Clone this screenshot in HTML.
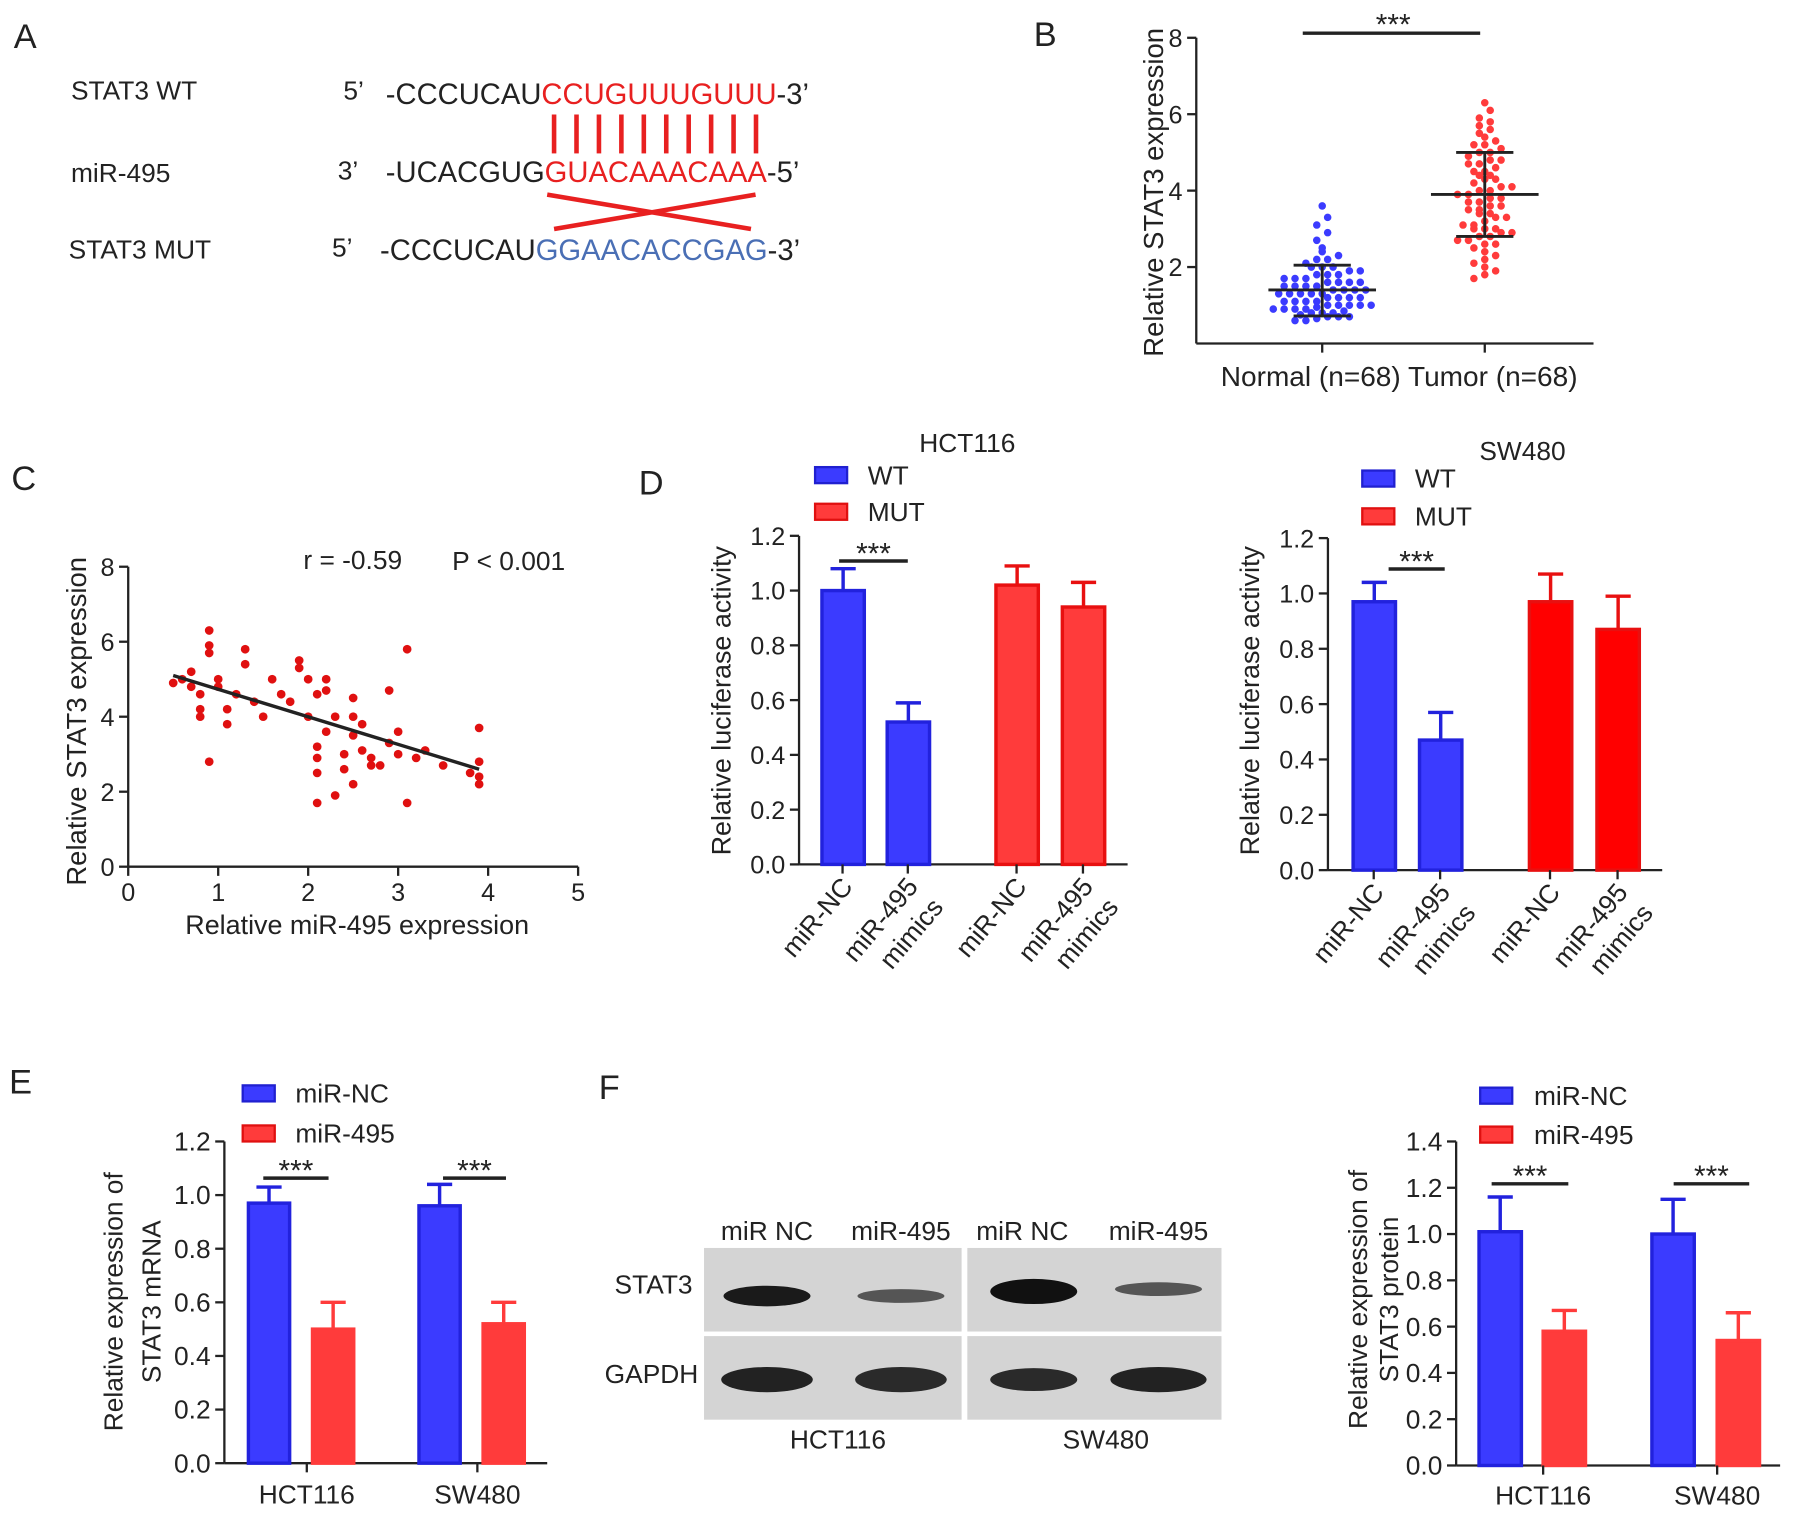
<!DOCTYPE html>
<html><head><meta charset="utf-8"><style>
html,body{margin:0;padding:0;background:#fff}
svg{display:block}
text{font-family:"Liberation Sans",sans-serif;fill:#222}
</style></head><body>
<svg id="fig" width="1795" height="1517" viewBox="0 0 1568 1325" preserveAspectRatio="none" xmlns="http://www.w3.org/2000/svg">
<g font-size="23">
<text x="12" y="42" font-size="30">A</text>
<text x="62" y="87">STAT3 WT</text>
<text x="62" y="159">miR-495</text>
<text x="60" y="226">STAT3 MUT</text>
<text x="300" y="87">5’</text><text x="295" y="157">3’</text><text x="290" y="224">5’</text>
<text x="337" y="91" font-size="25.5">-CCCUCAU<tspan fill="#e82020">CCUGUUUGUUU</tspan>-3’</text>
<text x="337" y="159" font-size="25.5">-UCACGUG<tspan fill="#e82020">GUACAAACAAA</tspan>-5’</text>
<text x="332" y="227" font-size="25.5">-CCCUCAU<tspan fill="#4a6fb5">GGAACACCGAG</tspan>-3’</text>
<g id="pairs" stroke="#e82020" stroke-width="4"></g>
<line x1="478" y1="170" x2="656" y2="200" stroke="#e82020" stroke-width="4"/>
<line x1="484" y1="200" x2="660" y2="170" stroke="#e82020" stroke-width="4"/>
</g>
<g id="pb"></g>
<g id="pc"></g>
<g id="pd"></g>
<g id="pe"></g>
<g id="pf"></g>
</svg>
<script>
const NS='http://www.w3.org/2000/svg';
const BLUE='#3b3bff',RED='#ff3b3b';
// Panel B data
const normalVals=[3.6,3.3,3.1,2.9,2.7,2.5,2.4,2.3,2.2,2.2,2.1,2.0,2.0,1.9,1.9,1.8,1.8,1.7,1.7,1.7,1.6,1.6,1.6,1.5,1.5,1.5,1.5,1.4,1.4,1.4,1.4,1.3,1.3,1.3,1.3,1.2,1.2,1.2,1.2,1.1,1.1,1.1,1.1,1.0,1.0,1.0,1.0,0.95,0.9,0.9,0.9,0.85,0.8,0.8,0.8,0.75,0.7,0.7,0.7,0.65,0.6,0.6,1.6,1.8,2.0,1.3,1.0,0.9];
const tumorVals=[6.3,6.1,5.9,5.8,5.7,5.6,5.5,5.4,5.3,5.2,5.1,5.0,5.0,4.9,4.8,4.7,4.7,4.6,4.5,4.5,4.4,4.3,4.3,4.2,4.1,4.1,4.0,4.0,3.9,3.9,3.8,3.8,3.7,3.7,3.6,3.6,3.5,3.5,3.4,3.3,3.3,3.2,3.1,3.1,3.0,3.0,2.9,2.9,2.8,2.8,2.7,2.6,2.6,2.5,2.4,2.3,2.2,2.1,2.0,1.9,1.8,1.7,4.4,3.4,4.8,5.2,3.0,2.7];
const groupMeans=[1.4,3.9];
const groupLow=[0.72,2.8];
const groupHigh=[2.05,5.0];
const bTicks=[2,4,6,8];
// Panel C data
const corrX=[0.5,0.6,0.7,0.7,0.8,0.8,0.8,0.9,0.9,0.9,0.9,1.0,1.0,1.1,1.1,1.2,1.3,1.3,1.4,1.5,1.6,1.7,1.8,1.9,1.9,2.0,2.0,2.1,2.1,2.1,2.1,2.1,2.2,2.2,2.2,2.3,2.3,2.4,2.4,2.5,2.5,2.5,2.5,2.6,2.6,2.7,2.7,2.8,2.9,2.9,3.0,3.0,3.1,3.1,3.2,3.3,3.5,3.8,3.9,3.9,3.9,3.9];
const corrY=[4.9,5.0,4.8,5.2,4.6,4.2,4.0,6.3,5.9,5.7,2.8,5.0,4.8,4.2,3.8,4.6,5.8,5.4,4.4,4.0,5.0,4.6,4.4,5.5,5.3,5.0,4.0,4.6,3.2,2.9,2.5,1.7,5.0,4.7,3.6,4.0,1.9,3.0,2.6,4.5,4.0,3.5,2.2,3.8,3.1,2.9,2.7,2.7,3.3,4.7,3.6,3.0,5.8,1.7,2.9,3.1,2.7,2.5,3.7,2.8,2.4,2.2];
const fitLine=[[0.5,5.1],[3.9,2.6]];
const cXTicks=[0,1,2,3,4,5];
const cYTicks=[0,2,4,6,8];
// Panel D data
const dCats=['miR-NC','miR-495|mimics','miR-NC','miR-495|mimics'];
const dHctVals=[1.0,0.52,1.02,0.94];
const dHctErr=[0.08,0.07,0.07,0.09];
const dSwVals=[0.97,0.47,0.97,0.87];
const dSwErr=[0.07,0.1,0.1,0.12];
const ticks12=[0,0.2,0.4,0.6,0.8,1.0,1.2];
// Panel E data
const eCats=['HCT116','SW480'];
const eNC=[0.97,0.96];const eNCerr=[0.06,0.08];
const e495=[0.50,0.52];const e495err=[0.1,0.08];
// Panel F data
const fNC=[1.01,1.0];const fNCerr=[0.15,0.15];
const f495=[0.58,0.54];const f495err=[0.09,0.12];
const ticks14=[0,0.2,0.4,0.6,0.8,1.0,1.2,1.4];

function el(p,tag,a,txt){const e=document.createElementNS(NS,tag);for(const k in a)e.setAttribute(k,a[k]);if(txt!==undefined)e.textContent=txt;p.appendChild(e);return e;}
const pairs=document.getElementById('pairs');
for(let i=0;i<10;i++){const x=484+i*19.6;const l=el(pairs,'line',{x1:x,y1:100,x2:x,y2:134});

}

function yAxis(g,x,y0,y1,ticks,max,fmt,fs){
  el(g,'line',{x1:x,y1:y0,x2:x,y2:y1,stroke:'#222','stroke-width':2});
  ticks.forEach(t=>{const y=y0-(y0-y1)*t/max;el(g,'line',{x1:x-8,y1:y,x2:x,y2:y,stroke:'#222','stroke-width':2});
  const tx=el(g,'text',{x:x-12,y:y+8,'text-anchor':'end','font-size':fs||22},fmt?fmt(t):t);
  
  });
}
function vtitle(g,x,y,lines,fs,sp){lines.forEach((s,i)=>{const t=el(g,'text',{x:0,y:0,transform:`translate(${x+i*(sp||28)},${y}) rotate(-90)`,'text-anchor':'middle','font-size':fs||23},s);

});}

// Panel B
(function(){const g=document.getElementById('pb');
el(g,'text',{x:903,y:40,'font-size':30},'B');
const x0=1045,y0=300,y1=33,max=8;const Y=v=>y0-(y0-y1)*v/max;
yAxis(g,x0,y0,y1,bTicks,max);
el(g,'line',{x1:x0,y1:y0,x2:1392,y2:y0,stroke:'#222','stroke-width':2});
vtitle(g,1016,168,['Relative STAT3 expression'],24);
const cx=[1155,1297];const cols=[BLUE,RED];
[[normalVals,0],[tumorVals,1]].forEach(([vals,gi])=>{
 el(g,'line',{x1:cx[gi],y1:y0,x2:cx[gi],y2:y0+8,stroke:'#222','stroke-width':2});
 const bins={};vals.slice().sort((a,b)=>a-b).forEach(v=>{const k=Math.round(v/0.2);bins[k]=bins[k]||[];bins[k].push(v);});
 for(const k in bins){bins[k].forEach((v,i)=>{const off=(i-(bins[k].length-1)/2)*9.5;
  const c=el(g,'circle',{cx:cx[gi]+off,cy:Y(v),r:3.3,fill:cols[gi]});
  
  });}
 el(g,'line',{x1:cx[gi]-47,y1:Y(groupMeans[gi]),x2:cx[gi]+47,y2:Y(groupMeans[gi]),stroke:'#222','stroke-width':2.5});
 el(g,'line',{x1:cx[gi],y1:Y(groupLow[gi]),x2:cx[gi],y2:Y(groupHigh[gi]),stroke:'#222','stroke-width':2.5});
 [groupLow[gi],groupHigh[gi]].forEach(v=>el(g,'line',{x1:cx[gi]-25,y1:Y(v),x2:cx[gi]+25,y2:Y(v),stroke:'#222','stroke-width':2.5}));
});
el(g,'text',{x:1145,y:337,'text-anchor':'middle','font-size':24.5},'Normal (n=68)');
el(g,'text',{x:1304,y:337,'text-anchor':'middle','font-size':24.5},'Tumor (n=68)');
el(g,'line',{x1:1138,y1:29,x2:1293,y2:29,stroke:'#222','stroke-width':3});
el(g,'text',{x:1217,y:30,'text-anchor':'middle','font-size':26},'***');
})();

// Panel C
(function(){const g=document.getElementById('pc');
el(g,'text',{x:10,y:428,'font-size':30},'C');
const x0=112,x1=505,y0=757,y1=495;const X=v=>x0+(x1-x0)*v/5,Y=v=>y0-(y0-y1)*v/8;
yAxis(g,x0,y0,y1,cYTicks,8);
el(g,'line',{x1:x0,y1:y0,x2:x1,y2:y0,stroke:'#222','stroke-width':2});
cXTicks.forEach(t=>{el(g,'line',{x1:X(t),y1:y0,x2:X(t),y2:y0+8,stroke:'#222','stroke-width':2});
 const tx=el(g,'text',{x:X(t),y:y0+30,'text-anchor':'middle','font-size':22},t);
 
 });
el(g,'text',{x:312,y:816,'text-anchor':'middle','font-size':23.5},'Relative miR-495 expression');
vtitle(g,75,630,['Relative STAT3 expression'],24);
corrX.forEach((v,i)=>{const c=el(g,'circle',{cx:X(v),cy:Y(corrY[i]),r:3.8,fill:'#e01010'});
 
 });
el(g,'line',{x1:X(fitLine[0][0]),y1:Y(fitLine[0][1]),x2:X(fitLine[1][0]),y2:Y(fitLine[1][1]),stroke:'#222','stroke-width':3});
el(g,'text',{x:265,y:497,'font-size':23},'r = -0.59');
el(g,'text',{x:395,y:498,'font-size':23},'P < 0.001');
})();

function barChart(g,o){
 const Y=v=>o.y0-(o.y0-o.y1)*v/o.max;
 yAxis(g,o.x0,o.y0,o.y1,o.ticks,o.max,t=>t.toFixed(1),o.fs);
 el(g,'line',{x1:o.x0,y1:o.y0,x2:o.xEnd,y2:o.y0,stroke:'#222','stroke-width':2});
 o.vals.forEach((v,i)=>{const bx=o.bx[i];const col=o.cols[i];
  const r=el(g,'rect',{x:bx,y:Y(v),width:o.bw,height:o.y0-Y(v),fill:col,stroke:o.stroke[i],'stroke-width':3});
  
  
  const cxb=bx+o.bw/2,te=Y(v+o.err[i]);
  el(g,'line',{x1:cxb,y1:Y(v),x2:cxb,y2:te,stroke:o.stroke[i],'stroke-width':3});
  el(g,'line',{x1:cxb-11,y1:te,x2:cxb+11,y2:te,stroke:o.stroke[i],'stroke-width':3});
 });
}
function legend(g,x,ys,cols,labels,tx){ys.forEach((y,i)=>{
 const r=el(g,'rect',{x:x,y:y-7,width:28,height:14,fill:cols[i],stroke:cols[i]==BLUE?'#2020d0':'#e01010','stroke-width':2});
 
 
 const t=el(g,'text',{x:tx,y:y+8,'font-size':23},labels[i]);
 
 });}
function sig(g,a,b,y){el(g,'line',{x1:a,y1:y,x2:b,y2:y,stroke:'#222','stroke-width':3});el(g,'text',{x:(a+b)/2,y:y+2,'text-anchor':'middle','font-size':26},'***');}

// Panel D
(function(){const g=document.getElementById('pd');
el(g,'text',{x:558,y:432,'font-size':30},'D');
const sets=[{x0:698,y0:755,y1:468,xEnd:985,bx:[718,775,870,928],vals:dHctVals,err:dHctErr,cols:[BLUE,BLUE,RED,RED],title:'HCT116',tx:845,ty:395,lx:712,ly:[415,447],sig:[733,793,490],vt:638},
 {x0:1160,y0:760,y1:470,xEnd:1452,bx:[1182,1240,1336,1395],vals:dSwVals,err:dSwErr,cols:[BLUE,BLUE,'#ff0000','#ff0000'],title:'SW480',tx:1330,ty:402,lx:1190,ly:[418,451],sig:[1213,1262,497],vt:1100}];
sets.forEach(s=>{
 barChart(g,{x0:s.x0,y0:s.y0,y1:s.y1,xEnd:s.xEnd,max:1.2,ticks:ticks12,bx:s.bx,bw:37,vals:s.vals,err:s.err,cols:s.cols,stroke:s.cols.map(c=>c==BLUE?'#2222dd':'#e81010')});
 vtitle(g,s.vt,612,['Relative luciferase activity'],23.5);
 el(g,'text',{x:s.tx,y:s.ty,'text-anchor':'middle','font-size':23},s.title);
 legend(g,s.lx,s.ly,[BLUE,RED],['WT','MUT'],s.lx+46);
 sig(g,s.sig[0],s.sig[1],s.sig[2]);
 dCats.forEach((c,i)=>{const cx=s.bx[i]+18;el(g,'line',{x1:cx,y1:s.y0,x2:cx,y2:s.y0+8,stroke:'#222','stroke-width':2});
  const parts=c.split('|');parts.forEach((p,j)=>{const t=el(g,'text',{x:0,y:0,transform:`translate(${cx+10+j*22},${s.y0+20+j*18}) rotate(-50)`,'text-anchor':'end','font-size':23},p);
  
  });});
});
})();

// Panel E
(function(){const g=document.getElementById('pe');
el(g,'text',{x:8,y:955,'font-size':30},'E');
barChart(g,{x0:196,y0:1278,y1:997,xEnd:478,max:1.2,ticks:ticks12,bx:[217,366,273,422],bw:36,vals:[eNC[0],eNC[1],e495[0],e495[1]],err:[eNCerr[0],eNCerr[1],e495err[0],e495err[1]],cols:[BLUE,BLUE,RED,RED],stroke:['#2222dd','#2222dd','#ff3b3b','#ff3b3b'],fs:23});
vtitle(g,107,1137,['Relative expression of','STAT3 mRNA'],23,33);
legend(g,212,[955,990],[BLUE,RED],['miR-NC','miR-495'],258);
sig(g,230,287,1029);sig(g,387,442,1029);
[268,417].forEach((x,i)=>{el(g,'line',{x1:x,y1:1278,x2:x,y2:1286,stroke:'#222','stroke-width':2});
 const t=el(g,'text',{x:x,y:1313,'text-anchor':'middle','font-size':23},eCats[i]);
 
 });
})();

// Panel F
(function(){const g=document.getElementById('pf');
el(g,'text',{x:523,y:960,'font-size':30},'F');
const blot=el(g,'g',{});


[[615,840],[845,1067]].forEach(([a,b])=>{[[1090,1163],[1167,1240]].forEach(([c,d])=>{el(blot,'rect',{x:a,y:c,width:b-a,height:d-c,fill:'#d4d4d4'});});});
const bands=[[670,1132,38,9,'#1a1a1a'],[787,1132,38,6,'#555'],[903,1128,38,11,'#111'],[1012,1126,38,6,'#555'],
 [670,1205,40,11,'#222'],[787,1205,40,11,'#2a2a2a'],[903,1205,38,10,'#2a2a2a'],[1012,1205,42,11,'#222']];
bands.forEach(b=>el(blot,'ellipse',{cx:b[0],cy:b[1],rx:b[2],ry:b[3],fill:b[4]}));
[['miR NC',670],['miR-495',787],['miR NC',893],['miR-495',1012]].forEach(([s,x])=>el(g,'text',{x:x,y:1083,'text-anchor':'middle','font-size':23},s));
el(g,'text',{x:605,y:1130,'text-anchor':'end','font-size':23},'STAT3');
el(g,'text',{x:610,y:1208,'text-anchor':'end','font-size':23},'GAPDH');
el(g,'text',{x:732,y:1265,'text-anchor':'middle','font-size':23},'HCT116');
el(g,'text',{x:966,y:1265,'text-anchor':'middle','font-size':23},'SW480');
barChart(g,{x0:1272,y0:1280,y1:997,xEnd:1555,max:1.4,ticks:ticks14,bx:[1292,1443,1348,1500],bw:37,vals:[fNC[0],fNC[1],f495[0],f495[1]],err:[fNCerr[0],fNCerr[1],f495err[0],f495err[1]],cols:[BLUE,BLUE,RED,RED],stroke:['#2222dd','#2222dd','#ff3b3b','#ff3b3b'],fs:23});
vtitle(g,1194,1135,['Relative expression of','STAT3 protein'],23,27);
legend(g,1293,[957,991],[BLUE,RED],['miR-NC','miR-495'],1340);
sig(g,1303,1370,1034);sig(g,1462,1528,1034);
[1348,1500].forEach((x,i)=>{el(g,'line',{x1:x,y1:1280,x2:x,y2:1288,stroke:'#222','stroke-width':2});
 const t=el(g,'text',{x:x,y:1314,'text-anchor':'middle','font-size':23},eCats[i]);
 
 });
})();
</script>
</body></html>
